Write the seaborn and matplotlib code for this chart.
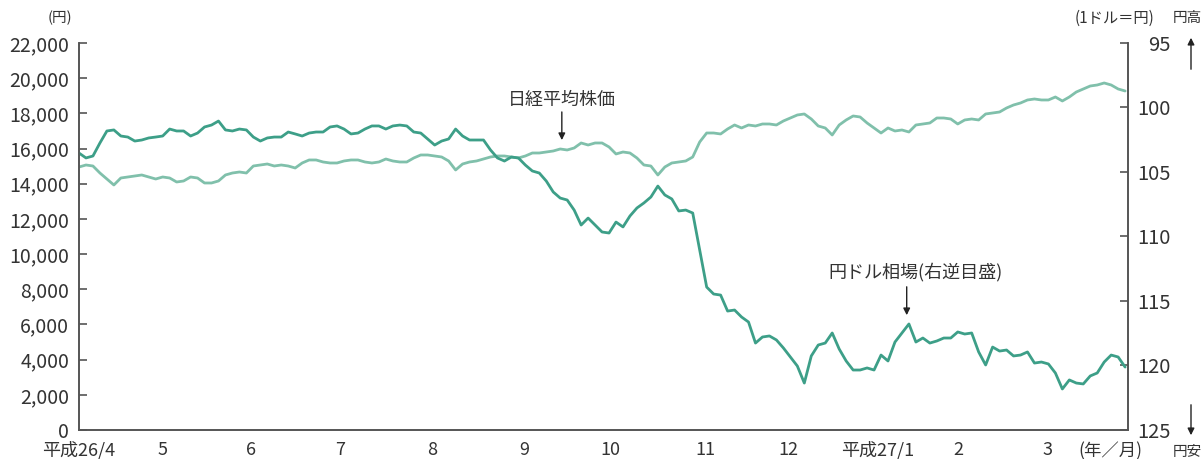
import pandas as pd
import numpy as np
import matplotlib
matplotlib.use("Agg")
import matplotlib.pyplot as plt
import seaborn as sns

# Data (roughly every 2-3 days)
nikkei = [14950, 15065, 15008, 14610, 14269, 13928, 14326, 14383, 14440, 14497,
          14383, 14269, 14383, 14326, 14099, 14156, 14383, 14326, 14042, 14042,
          14156, 14497, 14610, 14667, 14610, 15008, 15065, 15122, 15008, 15065,
          15008, 14895, 15179, 15350, 15350, 15236, 15179, 15179, 15293, 15350,
          15350, 15236, 15179, 15236, 15406, 15293, 15236, 15236, 15463, 15634,
          15634, 15577, 15520, 15293, 14781, 15122, 15236, 15293, 15406, 15520,
          15577, 15577, 15520, 15463, 15577, 15747, 15747, 15804, 15861, 15975,
          15918, 16032, 16316, 16202, 16316, 16316, 16089, 15691, 15804, 15747,
          15463, 15065, 15008, 14497, 14951, 15179, 15236, 15293, 15520, 16373,
          16884, 16884, 16828, 17112, 17339, 17169, 17339, 17282, 17396, 17396,
          17339, 17567, 17737, 17908, 17965, 17680, 17282, 17169, 16771, 17339,
          17624, 17851, 17794, 17453, 17169, 16884, 17169, 16998, 17055, 16941,
          17339, 17396, 17453, 17737, 17737, 17680, 17396, 17624, 17680, 17624,
          17965, 18021, 18078, 18306, 18476, 18590, 18761, 18817, 18761, 18761,
          18931, 18704, 18931, 19215, 19386, 19556, 19613, 19727, 19613, 19386,
          19272]

yen = [103.53, 103.91, 103.76, 102.75, 101.82, 101.74, 102.21, 102.29, 102.60, 102.52,
       102.36, 102.29, 102.21, 101.67, 101.82, 101.82, 102.21, 101.98, 101.51, 101.36,
       101.05, 101.74, 101.82, 101.67, 101.74, 102.29, 102.60, 102.36, 102.29, 102.29,
       101.90, 102.05, 102.21, 101.98, 101.90, 101.90, 101.51, 101.43, 101.67, 102.05,
       101.98, 101.67, 101.43, 101.43, 101.67, 101.43, 101.36, 101.43, 101.90, 101.98,
       102.44, 102.91, 102.60, 102.44, 101.67, 102.21, 102.52, 102.52, 102.52, 103.29,
       103.91, 104.15, 103.84, 103.91, 104.46, 104.92, 105.08, 105.70, 106.55, 107.02,
       107.17, 107.95, 109.11, 108.57, 109.11, 109.65, 109.73, 108.88, 109.26, 108.41,
       107.79, 107.40, 106.94, 106.09, 106.78, 107.09, 108.02, 107.95, 108.18, 111.05,
       113.92, 114.46, 114.54, 115.78, 115.70, 116.24, 116.63, 118.26, 117.79, 117.71,
       118.02, 118.64, 119.34, 120.04, 121.36, 119.26, 118.41, 118.26, 117.48, 118.72,
       119.65, 120.35, 120.35, 120.19, 120.35, 119.19, 119.65, 118.18, 117.48, 116.78,
       118.18, 117.87, 118.26, 118.10, 117.87, 117.87, 117.40, 117.56, 117.48, 118.95,
       119.96, 118.57, 118.88, 118.80, 119.26, 119.19, 118.95, 119.81, 119.73, 119.88,
       120.58, 121.82, 121.12, 121.36, 121.43, 120.81, 120.58, 119.73, 119.19, 119.34,
       120.12]

# month labels sit on the first trading day of each month
month_ticks = ["2014-04-01", "2014-04-30", "2014-05-31", "2014-07-01", "2014-08-02",
               "2014-09-03", "2014-10-03", "2014-11-05", "2014-12-04", "2015-01-04",
               "2015-02-01", "2015-03-04"]
month_labels = ["平成26/4", "5", "6", "7", "8", "9", "10", "11", "12",
                "平成27/1", "2", "3"]
left_ticks = [0, 2000, 4000, 6000, 8000, 10000, 12000, 14000, 16000, 18000, 20000, 22000]
right_ticks = [95, 100, 105, 110, 115, 120, 125]

dates = pd.date_range("2014-04-01", "2015-03-31", periods=len(nikkei))
df = pd.DataFrame({"date": dates, "nikkei": nikkei, "yen": yen})

sns.set_style("white")
plt.rcParams['font.family'] = ['Noto Sans CJK JP', 'DejaVu Sans']

text_c = "#333333"
axis_c = "#555555"
dark_c = "#3d9f88"
light_c = "#80c0ab"

fig = plt.figure(figsize=(12.02, 4.59), dpi=100)
ax = fig.add_axes([79/1202, 29/459, 1049/1202, 387/459])
ax2 = ax.twinx()

sns.lineplot(data=df, x="date", y="nikkei", ax=ax, color=light_c, linewidth=2.0)
sns.lineplot(data=df, x="date", y="yen", ax=ax2, color=dark_c, linewidth=2.0)

ax.set_xlim(pd.Timestamp("2014-04-01"), pd.Timestamp("2015-04-01"))
ax.set_ylim(0, 22000)
ax2.set_ylim(125, 95)

ax.set_yticks(left_ticks)
ax.set_yticklabels([f"{v:,}" for v in left_ticks])
ax2.set_yticks(right_ticks)
ax2.set_yticklabels([str(v) for v in right_ticks])
ax.set_xticks(pd.to_datetime(month_ticks))
ax.set_xticklabels(month_labels)

ax.set_xlabel("")
ax.set_ylabel("")
ax2.set_ylabel("")

for a in (ax, ax2):
    a.spines["top"].set_visible(False)
    for s in ("left", "right", "bottom"):
        a.spines[s].set_color(axis_c)
        a.spines[s].set_linewidth(1.2)

ax.tick_params(axis="y", direction="in", length=6, width=1.2, color=axis_c,
               labelsize=14, labelcolor=text_c, pad=7)
ax.tick_params(axis="x", length=0, labelsize=13, labelcolor=text_c, pad=8)
ax2.tick_params(axis="y", direction="in", length=6, width=1.2, color=axis_c,
                labelsize=14.5, labelcolor=text_c, pad=31)
for lbl in ax2.get_yticklabels():
    lbl.set_horizontalalignment("right")

# unit labels
fig.text(60/1202, 1 - 18/459, "(円)", ha="center", va="center", fontsize=10.5, color=text_c)
fig.text(1114/1202, 1 - 18/459, "(1ドル＝円)", ha="center", va="center", fontsize=11, color=text_c)
fig.text(1187/1202, 1 - 18/459, "円高", ha="center", va="center", fontsize=10.5, color=text_c)
fig.text(1187/1202, 1 - 452/459, "円安", ha="center", va="center", fontsize=10.5, color=text_c)
fig.text(1110/1202, 1 - 451/459, "(年／月)", ha="center", va="center", fontsize=12.5, color=text_c)

# arrows for 円高 / 円安
fig.add_artist(matplotlib.patches.FancyArrowPatch(
    (1191/1202, 1 - 72/459), (1191/1202, 1 - 35/459), transform=fig.transFigure,
    arrowstyle="-|>", mutation_scale=10, color="#222222", linewidth=1.0))
fig.add_artist(matplotlib.patches.FancyArrowPatch(
    (1191/1202, 1 - 402/459), (1191/1202, 1 - 438/459), transform=fig.transFigure,
    arrowstyle="-|>", mutation_scale=10, color="#222222", linewidth=1.0))

# series annotations
nk_x = pd.Timestamp("2014-09-16")
ax.text(nk_x, 18760, "日経平均株価", ha="center", va="center", fontsize=13, color=text_c)
ax.annotate("", xy=(nk_x, 16480), xytext=(nk_x, 18080),
            arrowprops=dict(arrowstyle="-|>", color="#222222", lw=1.0, mutation_scale=10,
                            shrinkA=0, shrinkB=0))

yen_x = pd.Timestamp("2015-01-14")
ax2.text(pd.Timestamp("2015-01-17"), 112.75, "円ドル相場(右逆目盛)", ha="center", va="center",
         fontsize=13, color=text_c)
ax2.annotate("", xy=(yen_x, 116.1), xytext=(yen_x, 113.9),
             arrowprops=dict(arrowstyle="-|>", color="#222222", lw=1.0, mutation_scale=10,
                             shrinkA=0, shrinkB=0))

plt.savefig("out.png", dpi=100)
